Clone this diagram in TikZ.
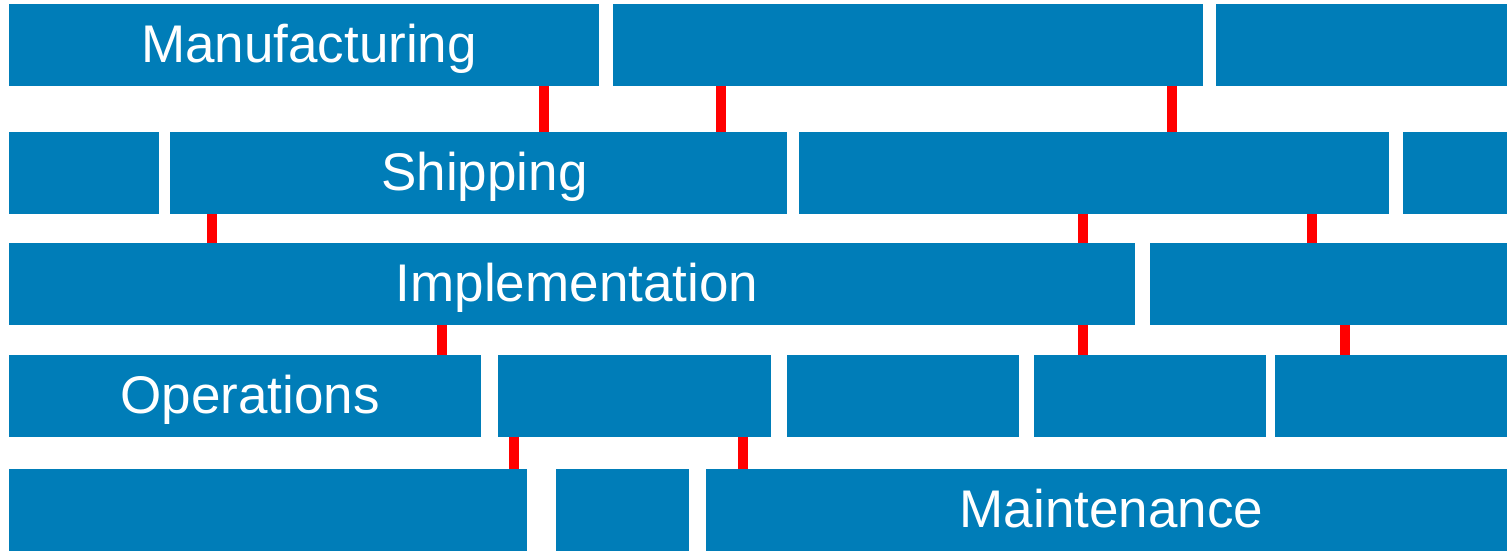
\documentclass[tikz,border=0pt]{standalone}
\usepackage{fontspec}
\setmainfont{Liberation Sans}
\definecolor{boxblue}{RGB}{0,125,184}
\begin{document}
\begin{tikzpicture}[x=1pt,y=-1pt,
  blk/.style={fill=boxblue,draw=none,inner sep=0pt,outer sep=0pt,minimum height=81.7pt},
  lbl/.style={text=white,font=\fontsize{53}{60}\selectfont,inner sep=0pt,anchor=base},
  conn/.style={draw=red,line width=10pt}]
\useasboundingbox (0,0) rectangle (1507,552);
% row 1
\node[blk,minimum width=590pt] (a1) at (304,44.85) {};
\node[blk,minimum width=590pt] (a2) at (908,44.85) {};
\node[blk,minimum width=291pt] (a3) at (1361.5,44.85) {};
% row 2
\node[blk,minimum width=150pt] (b1) at (84,172.85) {};
\node[blk,minimum width=617pt] (b2) at (478.5,172.85) {};
\node[blk,minimum width=590pt] (b3) at (1094,172.85) {};
\node[blk,minimum width=104pt] (b4) at (1455,172.85) {};
% row 3
\node[blk,minimum width=1126pt] (c1) at (572,283.85) {};
\node[blk,minimum width=357pt] (c2) at (1328.5,283.85) {};
% row 4
\node[blk,minimum width=472pt] (d1) at (245,395.85) {};
\node[blk,minimum width=273pt] (d2) at (634.5,395.85) {};
\node[blk,minimum width=232pt] (d3) at (903,395.85) {};
\node[blk,minimum width=232pt] (d4) at (1150,395.85) {};
\node[blk,minimum width=232pt] (d5) at (1391,395.85) {};
% row 5
\node[blk,minimum width=518pt] (e1) at (268,509.85) {};
\node[blk,minimum width=133pt] (e2) at (622.5,509.85) {};
\node[blk,minimum width=801pt] (e3) at (1106.5,509.85) {};
% labels
\node[lbl] (t1) at ([xshift=5pt,yshift=-17.4pt]a1.center) {Manufacturing};
\node[lbl] (t2) at ([xshift=6pt,yshift=-17.4pt]b2.center) {Shipping};
\node[lbl] (t3) at ([xshift=5pt,yshift=-17.4pt]c1.center) {Implementation};
\node[lbl] (t4) at ([xshift=5pt,yshift=-17.4pt]d1.center) {Operations};
\node[lbl] (t5) at ([xshift=5pt,yshift=-17.4pt]e3.center) {Maintenance};
% connectors
\coordinate (x544) at (544,0);
\coordinate (x721) at (721,0);
\coordinate (x1172) at (1172,0);
\coordinate (x212) at (212,0);
\coordinate (x1083) at (1083,0);
\coordinate (x1312) at (1312,0);
\coordinate (x442) at (442,0);
\coordinate (x1345) at (1345,0);
\coordinate (x514) at (514,0);
\coordinate (x743) at (743,0);
\draw[conn] (a1.south -| x544) -- (b2.north -| x544);
\draw[conn] (a2.south -| x721) -- (b2.north -| x721);
\draw[conn] (a2.south -| x1172) -- (b3.north -| x1172);
\draw[conn] (b2.south -| x212) -- (c1.north -| x212);
\draw[conn] (b3.south -| x1083) -- (c1.north -| x1083);
\draw[conn] (b3.south -| x1312) -- (c2.north -| x1312);
\draw[conn] (c1.south -| x442) -- (d1.north -| x442);
\draw[conn] (c1.south -| x1083) -- (d4.north -| x1083);
\draw[conn] (c2.south -| x1345) -- (d5.north -| x1345);
\draw[conn] (d2.south -| x514) -- (e1.north -| x514);
\draw[conn] (d2.south -| x743) -- (e3.north -| x743);
\end{tikzpicture}
\end{document}
